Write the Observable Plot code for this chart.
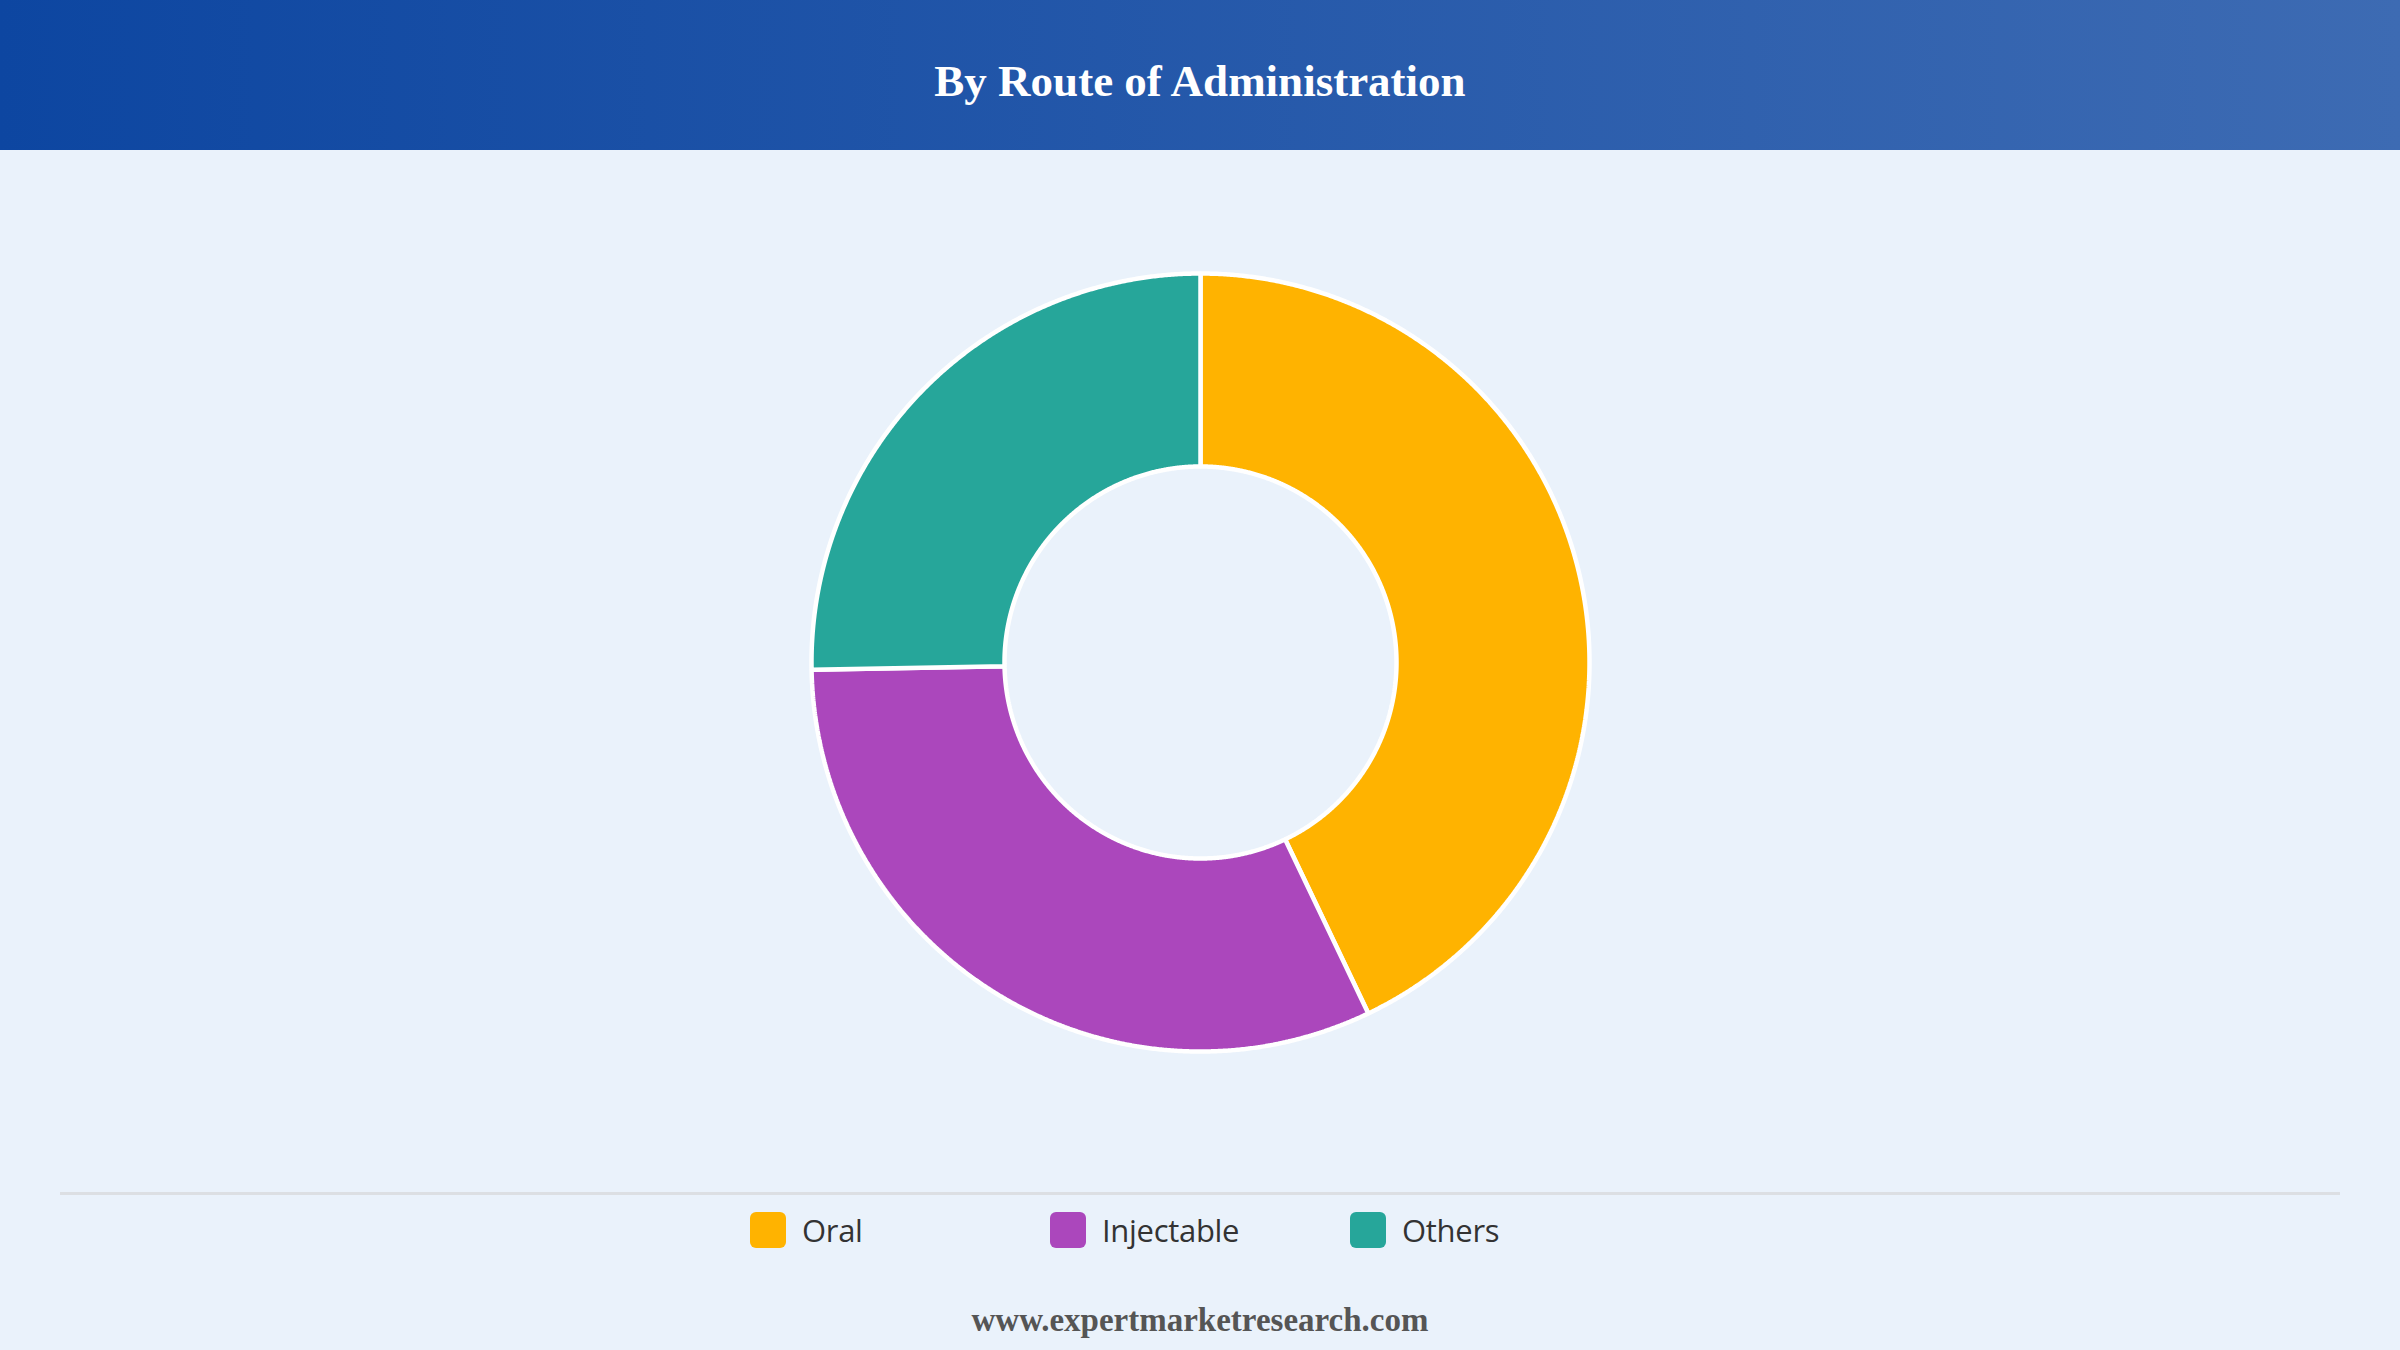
<!DOCTYPE html>
<html>
<head>
<meta charset="utf-8">
<script src="https://cdn.jsdelivr.net/npm/d3@7"></script>
<script src="https://cdn.jsdelivr.net/npm/@observablehq/plot@0.6"></script>
<style>
  html, body { margin: 0; padding: 0; }
  body { width: 2400px; height: 1350px; background: #eaf2fb; position: relative; overflow: hidden; }
  #header { position: absolute; left: 0; top: 0; width: 2400px; height: 150px;
    background: linear-gradient(to right, #0d46a1, #3d6bb3); }
  #title { position: absolute; left: 0; width: 2400px; top: 0; text-align: center;
    font-family: "Liberation Serif", "Times New Roman", serif; font-weight: bold; font-size: 45px;
    color: #ffffff; line-height: 45px; padding-top: 59px; }
  #chart { position: absolute; left: 0; top: 150px; }
  #rule { position: absolute; left: 60px; width: 2280px; top: 1192px; height: 3px; background: #dcdfe3; }
  .item { position: absolute; top: 1212px; height: 36px; display: flex; align-items: center; }
  .sw { width: 36px; height: 36px; border-radius: 6px; margin-right: 16px; }
  .lab { font-family: "Open Sans", Lato, sans-serif; font-size: 31px; color: #333333; line-height: 36px; letter-spacing: -0.3px; }
  #footer { position: absolute; left: 0; width: 2400px; top: 1300px; text-align: center;
    font-family: "Liberation Serif", "Times New Roman", serif; font-weight: bold; font-size: 33px;
    color: #555555; line-height: 40px; }
</style>
</head>
<body>
<div id="header"><div id="title"></div></div>
<div id="chart"></div>
<div id="rule"></div>
<div id="legend"></div>
<div id="footer"></div>
<script>
const title = "By Route of Administration";
const footer = "www.expertmarketresearch.com";
const categories = ["Oral", "Injectable", "Others"];
const shares = [42.9, 31.8, 25.3];
const colors = ["#ffb300", "#ab47bc", "#26a69a"];

document.getElementById("title").textContent = title;
document.getElementById("footer").textContent = footer;

const W = 2400, H = 1040, CY = 512;
const R_OUT = 389, R_IN = 196;

const data = categories.map((c, i) => ({name: c, value: shares[i]}));
const arcs = d3.pie().sort(null).value(d => d.value).startAngle(0).endAngle(2 * Math.PI)(data);

const pts = [];
for (const a of arcs) {
  const n = Math.max(2, Math.ceil((a.endAngle - a.startAngle) / (Math.PI / 720)));
  for (let k = 0; k <= n; k++) {
    const t = a.startAngle + (a.endAngle - a.startAngle) * k / n;
    pts.push({name: a.data.name, x: R_OUT * Math.sin(t), y: R_OUT * Math.cos(t)});
  }
  for (let k = n; k >= 0; k--) {
    const t = a.startAngle + (a.endAngle - a.startAngle) * k / n;
    pts.push({name: a.data.name, x: R_IN * Math.sin(t), y: R_IN * Math.cos(t)});
  }
}

const chart = Plot.plot({
  width: W,
  height: H,
  margin: 0,
  style: {background: "transparent", overflow: "visible"},
  x: {domain: [-W / 2, W / 2], axis: null},
  y: {domain: [-(H - CY), CY], axis: null},
  color: {domain: categories, range: colors, legend: false},
  marks: [
    Plot.line(pts, {x: "x", y: "y", z: "name", fill: "name", stroke: "#ffffff",
      strokeWidth: 4.5, curve: "linear-closed", strokeLinejoin: "miter"})
  ]
});
document.getElementById("chart").appendChild(chart);

const legend = document.getElementById("legend");
categories.forEach((c, i) => {
  const item = document.createElement("div");
  item.className = "item";
  item.style.left = (750 + i * 300) + "px";
  const sw = document.createElement("div");
  sw.className = "sw";
  sw.style.background = colors[i];
  const lab = document.createElement("div");
  lab.className = "lab";
  lab.textContent = c;
  item.appendChild(sw);
  item.appendChild(lab);
  legend.appendChild(item);
});
</script>
</body>
</html>
